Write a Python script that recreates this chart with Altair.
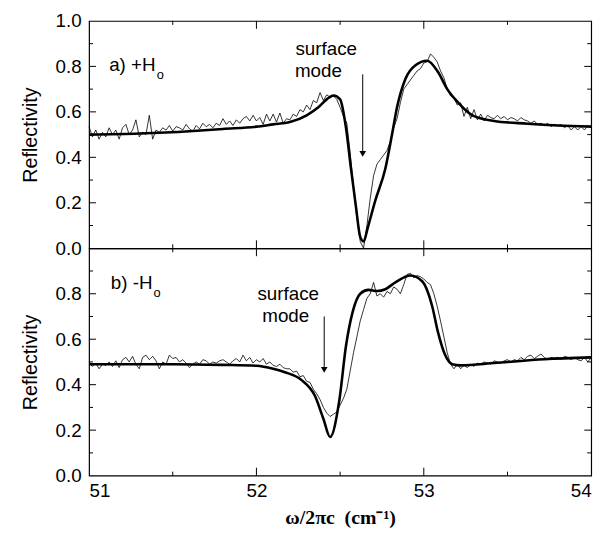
import altair as alt
import pandas as pd

# ---------------- data ----------------
MEAS_X = [
    51.00, 51.02, 51.04, 51.06, 51.08, 51.10, 51.12, 51.14, 51.16, 51.18,
    51.20, 51.22, 51.24, 51.26, 51.28, 51.30, 51.32, 51.34, 51.36, 51.38,
    51.40, 51.42, 51.44, 51.46, 51.48, 51.50, 51.52, 51.54, 51.56, 51.58,
    51.60, 51.62, 51.64, 51.66, 51.68, 51.70, 51.72, 51.74, 51.76, 51.78,
    51.80, 51.82, 51.84, 51.86, 51.88, 51.90, 51.92, 51.94, 51.96, 51.98,
    52.00, 52.02, 52.04, 52.06, 52.08, 52.10, 52.12, 52.14, 52.16, 52.18,
    52.20, 52.22, 52.24, 52.26, 52.28, 52.30, 52.32, 52.34, 52.36, 52.38,
    52.40, 52.42, 52.44, 52.46, 52.48, 52.50, 52.52, 52.54, 52.56, 52.58,
    52.60, 52.62, 52.64, 52.66, 52.68, 52.70, 52.72, 52.74, 52.76, 52.78,
    52.80, 52.82, 52.84, 52.86, 52.88, 52.90, 52.92, 52.94, 52.96, 52.98,
    53.00, 53.02, 53.04, 53.06, 53.08, 53.10, 53.12, 53.14, 53.16, 53.18,
    53.20, 53.22, 53.24, 53.26, 53.28, 53.30, 53.32, 53.34, 53.36, 53.38,
    53.40, 53.42, 53.44, 53.46, 53.48, 53.50, 53.52, 53.54, 53.56, 53.58,
    53.60, 53.62, 53.64, 53.66, 53.68, 53.70, 53.72, 53.74, 53.76, 53.78,
    53.80, 53.82, 53.84, 53.86, 53.88, 53.90, 53.92, 53.94, 53.96, 53.98,
    54.00,
]

A_MEAS_Y = [
    0.535, 0.49, 0.52, 0.48, 0.51, 0.49, 0.53, 0.50, 0.52, 0.48,
    0.53, 0.545, 0.50, 0.52, 0.565, 0.49, 0.51, 0.50, 0.585, 0.48,
    0.52, 0.51, 0.53, 0.52, 0.54, 0.515, 0.535, 0.53, 0.52, 0.545,
    0.525, 0.515, 0.54, 0.525, 0.55, 0.535, 0.545, 0.53, 0.55, 0.54,
    0.57, 0.545, 0.56, 0.54, 0.565, 0.55, 0.57, 0.58, 0.56, 0.585,
    0.56, 0.575, 0.545, 0.59, 0.56, 0.59, 0.555, 0.595, 0.55, 0.57,
    0.565, 0.59, 0.58, 0.61, 0.60, 0.63, 0.61, 0.65, 0.64, 0.685,
    0.65, 0.675, 0.665, 0.67, 0.655, 0.62, 0.58, 0.55, 0.42, 0.27,
    0.14, 0.03, 0.00, 0.10, 0.22, 0.32, 0.37, 0.39, 0.41, 0.43,
    0.47, 0.53, 0.57, 0.64, 0.70, 0.72, 0.74, 0.76, 0.78, 0.79,
    0.815, 0.82, 0.855, 0.84, 0.82, 0.78, 0.75, 0.70, 0.67, 0.66,
    0.63, 0.64, 0.58, 0.62, 0.57, 0.61, 0.565, 0.59, 0.56, 0.585,
    0.575, 0.57, 0.585, 0.57, 0.58, 0.565, 0.575, 0.57, 0.56, 0.575,
    0.565, 0.56, 0.55, 0.56, 0.545, 0.55, 0.54, 0.55, 0.535, 0.545,
    0.54, 0.545, 0.53, 0.54, 0.52, 0.535, 0.52, 0.535, 0.52, 0.54,
    0.53,
]

B_MEAS_Y = [
    0.50, 0.48, 0.495, 0.47, 0.49, 0.485, 0.50, 0.48, 0.505, 0.475,
    0.51, 0.52, 0.50, 0.525, 0.49, 0.47, 0.52, 0.53, 0.51, 0.525,
    0.505, 0.47, 0.50, 0.49, 0.53, 0.515, 0.52, 0.50, 0.51, 0.495,
    0.475, 0.49, 0.50, 0.49, 0.51, 0.505, 0.49, 0.50, 0.495, 0.505,
    0.51, 0.50, 0.49, 0.505, 0.515, 0.50, 0.53, 0.505, 0.52, 0.495,
    0.51, 0.50, 0.515, 0.49, 0.50, 0.485, 0.48, 0.49, 0.475, 0.47,
    0.47, 0.455, 0.46, 0.435, 0.44, 0.415, 0.41, 0.38, 0.36, 0.335,
    0.30, 0.275, 0.26, 0.27, 0.28, 0.31, 0.34, 0.38, 0.46, 0.54,
    0.61, 0.68, 0.73, 0.78, 0.80, 0.85, 0.79, 0.80, 0.785, 0.81,
    0.80, 0.83, 0.82, 0.80, 0.84, 0.885, 0.89, 0.87, 0.88, 0.875,
    0.865, 0.85, 0.84, 0.80, 0.745, 0.68, 0.61, 0.54, 0.49, 0.47,
    0.49, 0.47, 0.485, 0.475, 0.49, 0.48, 0.495, 0.49, 0.50, 0.495,
    0.49, 0.505, 0.50, 0.495, 0.505, 0.51, 0.50, 0.51, 0.505, 0.52,
    0.51, 0.525, 0.53, 0.515, 0.525, 0.535, 0.52, 0.51, 0.52, 0.515,
    0.52, 0.51, 0.525, 0.52, 0.51, 0.52, 0.51, 0.505, 0.52, 0.50,
    0.52,
]

A_FIT_X = [51.0, 51.3, 51.6, 51.8, 52.0, 52.1, 52.2, 52.3, 52.37, 52.42, 52.46,
           52.5, 52.535, 52.565, 52.595, 52.62, 52.64, 52.665, 52.71, 52.77,
           52.81, 52.84, 52.89, 52.95, 53.02, 53.085, 53.14, 53.2, 53.29,
           53.42, 53.62, 53.8, 54.0]
A_FIT_Y = [0.50, 0.505, 0.515, 0.525, 0.535, 0.545, 0.555, 0.585, 0.62, 0.655, 0.672,
           0.655, 0.53, 0.35, 0.18, 0.05, 0.03, 0.09, 0.21, 0.35,
           0.50, 0.62, 0.745, 0.805, 0.825, 0.775, 0.70, 0.645, 0.585,
           0.56, 0.548, 0.54, 0.535]

B_FIT_X = [51.0, 51.5, 51.8, 52.0, 52.1, 52.17, 52.27, 52.35, 52.40, 52.44,
           52.495, 52.535, 52.575, 52.62, 52.67, 52.72, 52.77, 52.83, 52.92,
           52.99, 53.05, 53.085, 53.125, 53.17, 53.22, 53.42, 53.72, 54.0]
B_FIT_Y = [0.49, 0.49, 0.487, 0.483, 0.47, 0.455, 0.42, 0.35, 0.25, 0.17,
           0.33, 0.57, 0.72, 0.80, 0.817, 0.812, 0.82, 0.85, 0.88,
           0.855, 0.745, 0.63, 0.535, 0.49, 0.485, 0.495, 0.512, 0.52]

X_LABEL_TICKS = [51, 52, 53, 54]
X_MAJOR_IN = [52, 53]
X_MINOR_IN = [51.5, 52.5, 53.5]
Y_LABELS_A = [0.0, 0.2, 0.4, 0.6, 0.8, 1.0]
Y_LABELS_B = [0.0, 0.2, 0.4, 0.6, 0.8]
Y_MAJOR_IN = [0.2, 0.4, 0.6, 0.8]
Y_MINOR_IN = [0.1, 0.3, 0.5, 0.7, 0.9]

X_TITLE = "ω/2πc\u00a0\u00a0(cm⁻¹)"
Y_TITLE = "Reflectivity"

# annotation content
A_LABEL = {"x": 51.12, "y": 0.78, "t": "a) +H", "sx": 51.405, "sy": 0.745}
B_LABEL = {"x": 51.13, "y": 0.82, "t": "b) -H", "sx": 51.385, "sy": 0.785}
A_SURF = {"x": [52.417, 52.37], "y": [0.848, 0.752], "t": ["surface", "mode"]}
B_SURF = {"x": [52.19, 52.175], "y": [0.774, 0.674], "t": ["surface", "mode"]}
A_ARROW = {"x": 52.635, "y1": 0.765, "y2": 0.425, "head": 0.415}
B_ARROW = {"x": 52.405, "y1": 0.70, "y2": 0.475, "head": 0.465}

W, H = 508, 230
FONT = "Liberation Sans"
XS = alt.Scale(domain=[51, 54], nice=False, zero=False)
YS = alt.Scale(domain=[0, 1], nice=False)
MAJOR_LEN, MINOR_LEN = 8, 4


def x_ticks(values, at_top, length):
    df = pd.DataFrame({"v": values})
    if at_top:
        y0, y1 = 0, length
    else:
        y0, y1 = H, H - length
    return alt.Chart(df).mark_rule(color="black", strokeWidth=1).encode(
        x=alt.X("v:Q", scale=XS, axis=None),
        y=alt.value(y0), y2=alt.value(y1),
    )


def y_ticks(values, at_right, length):
    df = pd.DataFrame({"v": values})
    if at_right:
        x0, x1 = W, W - length
    else:
        x0, x1 = 0, length
    return alt.Chart(df).mark_rule(color="black", strokeWidth=1).encode(
        y=alt.Y("v:Q", scale=YS, axis=None),
        x=alt.value(x0), x2=alt.value(x1),
    )


def panel(meas_y, fit_x, fit_y, label, surf, arrow, y_labels, bottom):
    meas = pd.DataFrame({"x": MEAS_X, "y": meas_y})
    fit = pd.DataFrame({"x": fit_x, "y": fit_y})

    if bottom:
        x_axis_main = alt.Axis(orient="bottom", values=X_LABEL_TICKS, ticks=False,
                               domain=False, grid=False, format="d", labelPadding=6,
                               title=X_TITLE, titleFont="Liberation Serif",
                               titleFontWeight="bold", titleFontSize=20, titlePadding=7)
    else:
        x_axis_main = None

    y_axis_main = alt.Axis(orient="left", values=y_labels, ticks=False, domain=False,
                           grid=False, format=".1f", labelPadding=8,
                           title=Y_TITLE, titlePadding=15)

    l_meas = alt.Chart(meas).mark_line(color="black", strokeWidth=0.8).encode(
        x=alt.X("x:Q", scale=XS, axis=x_axis_main),
        y=alt.Y("y:Q", scale=YS, axis=y_axis_main),
    )
    l_fit = alt.Chart(fit).mark_line(color="black", strokeWidth=2.6,
                                     interpolate="monotone").encode(
        x=alt.X("x:Q", scale=XS, axis=None),
        y=alt.Y("y:Q", scale=YS, axis=None),
    )

    lab_df = pd.DataFrame({"x": [label["x"]], "y": [label["y"]], "t": [label["t"]]})
    l_lab = alt.Chart(lab_df).mark_text(align="left", baseline="alphabetic",
                                        font=FONT, fontSize=19, color="black").encode(
        x=alt.X("x:Q", scale=XS, axis=None),
        y=alt.Y("y:Q", scale=YS, axis=None),
        text="t:N",
    )
    sub_df = pd.DataFrame({"x": [label["sx"]], "y": [label["sy"]], "t": ["o"]})
    l_sub = alt.Chart(sub_df).mark_text(align="left", baseline="alphabetic",
                                        font=FONT, fontSize=13, color="black").encode(
        x=alt.X("x:Q", scale=XS, axis=None),
        y=alt.Y("y:Q", scale=YS, axis=None),
        text="t:N",
    )
    surf_df = pd.DataFrame(surf)
    l_surf = alt.Chart(surf_df).mark_text(align="center", baseline="alphabetic",
                                          font=FONT, fontSize=19, color="black").encode(
        x=alt.X("x:Q", scale=XS, axis=None),
        y=alt.Y("y:Q", scale=YS, axis=None),
        text="t:N",
    )
    arr_df = pd.DataFrame({"x": [arrow["x"]], "y1": [arrow["y1"]], "y2": [arrow["y2"]],
                           "h": [arrow["head"]]})
    l_arrow = alt.Chart(arr_df).mark_rule(color="black", strokeWidth=1).encode(
        x=alt.X("x:Q", scale=XS, axis=None),
        y=alt.Y("y1:Q", scale=YS, axis=None),
        y2="y2:Q",
    )
    l_head = alt.Chart(arr_df).mark_point(shape="triangle-down", filled=True, size=45,
                                          color="black", opacity=1).encode(
        x=alt.X("x:Q", scale=XS, axis=None),
        y=alt.Y("h:Q", scale=YS, axis=None),
    )

    ticks = [
        x_ticks(X_MAJOR_IN, False, MAJOR_LEN), x_ticks(X_MINOR_IN, False, MINOR_LEN),
        x_ticks(X_MAJOR_IN, True, MAJOR_LEN), x_ticks(X_MINOR_IN, True, MINOR_LEN),
        y_ticks(Y_MAJOR_IN, False, 7), y_ticks(Y_MINOR_IN, False, MINOR_LEN),
        y_ticks(Y_MAJOR_IN, True, 7), y_ticks(Y_MINOR_IN, True, MINOR_LEN),
    ]

    return alt.layer(l_meas, l_fit, l_lab, l_sub, l_surf, l_arrow, l_head,
                     *ticks).resolve_axis(x="independent", y="independent").properties(
        width=W, height=H)


top = panel(A_MEAS_Y, A_FIT_X, A_FIT_Y, A_LABEL, A_SURF, A_ARROW, Y_LABELS_A, False)
bot = panel(B_MEAS_Y, B_FIT_X, B_FIT_Y, B_LABEL, B_SURF, B_ARROW, Y_LABELS_B, True)

chart = alt.vconcat(top, bot, spacing=0, bounds="flush").properties(
    padding={"left": 11, "top": 0, "right": 10, "bottom": 5},
    background="white",
).configure_view(stroke="black", strokeWidth=1.2).configure_axis(
    labelFont=FONT, labelFontSize=19, labelColor="black",
    titleFont=FONT, titleFontSize=20, titleFontWeight="normal", titleColor="black",
    grid=False,
)

chart.save("out.html", embed_options={"renderer": "svg", "actions": False})
